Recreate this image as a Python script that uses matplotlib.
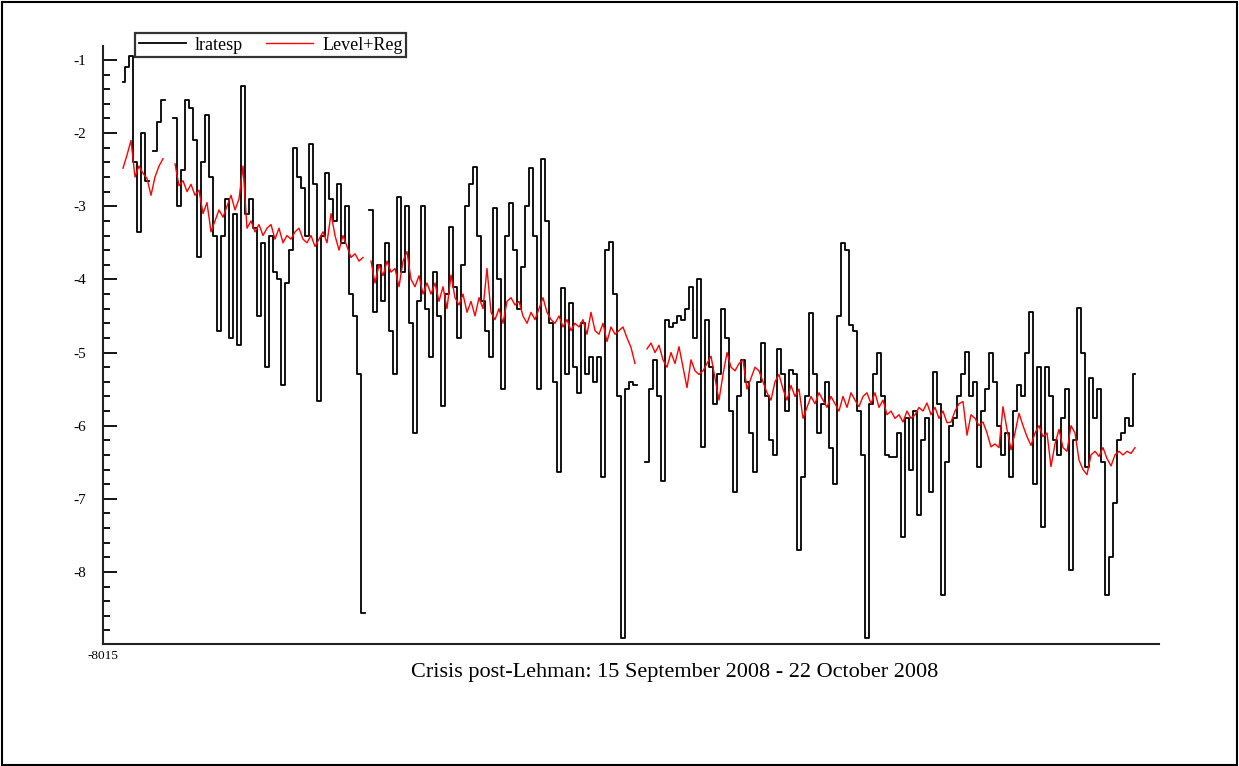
import numpy as np
import matplotlib
matplotlib.use("Agg")
import matplotlib.pyplot as plt
from matplotlib.patches import Rectangle
from matplotlib.ticker import MultipleLocator, FixedLocator

nan = np.nan

# ---- data ----
lratesp = [
    -1.30, -1.10, -0.95, -2.40, -3.35, -2.00, -2.65, nan, -2.25, -1.85,
    -1.55, nan, nan, -1.80, -3.00, -2.50, -1.55, -1.65, -2.10, -3.70,
    -2.40, -1.75, -2.60, -3.40, -4.70, -3.40, -2.90, -4.80, -3.10, -4.90,
    -1.35, -3.10, -2.90, -3.30, -4.50, -3.50, -5.20, -3.40, -3.90, -4.00,
    -5.45, -4.05, -3.60, -2.20, -2.60, -2.75, -3.40, -2.15, -2.70, -5.66,
    -3.40, -2.55, -2.90, -3.20, -2.70, -3.50, -3.00, -4.20, -4.50, -5.30,
    -8.56, nan, -3.05, -4.45, -3.80, -4.30, -3.50, -4.70, -5.30, -2.87,
    -3.90, -3.00, -4.60, -6.10, -4.30, -3.00, -4.40, -5.06, -3.90, -4.50,
    -5.73, -4.20, -3.28, -4.10, -4.80, -3.80, -3.00, -2.70, -2.46, -3.40,
    -4.30, -4.70, -5.06, -3.02, -4.00, -5.50, -3.40, -2.95, -3.60, -4.40,
    -3.83, -3.00, -2.48, -3.40, -5.50, -2.36, -3.20, -4.60, -5.40, -6.63,
    -4.12, -5.30, -4.32, -5.20, -5.55, -4.60, -5.30, -5.06, -5.40, -5.06,
    -6.70, -3.60, -3.49, -4.20, -5.60, -8.90, -5.50, -5.40, -5.45, nan,
    nan, -6.50, -5.50, -5.10, -5.60, -6.75, -4.55, -4.65, -4.60, -4.50,
    -4.55, -4.40, -4.10, -4.80, -4.00, -6.29, -4.55, -5.20, -5.70, -5.30,
    -4.40, -4.80, -5.80, -6.90, -5.60, -5.10, -5.40, -6.10, -6.63, -5.40,
    -4.87, -5.60, -6.20, -6.40, -4.95, -5.30, -5.80, -5.24, -5.30, -7.70,
    -6.70, -5.60, -4.46, -5.30, -6.10, -5.70, -5.40, -6.30, -6.80, -4.50,
    -3.50, -3.60, -4.62, -4.70, -5.80, -6.40, -8.90, -5.70, -5.30, -5.00,
    -5.60, -6.40, -6.43, -6.43, -6.10, -7.52, -5.90, -6.60, -5.80, -7.22,
    -6.20, -5.90, -6.90, -5.27, -5.70, -8.31, -6.50, -6.00, -5.90, -5.60,
    -5.30, -4.99, -5.60, -5.40, -6.56, -5.80, -5.50, -5.00, -5.40, -6.00,
    -6.40, -6.10, -6.70, -5.80, -5.44, -5.60, -5.00, -4.44, -6.80, -5.20,
    -7.38, -5.20, -5.60, -6.20, -6.40, -5.90, -5.50, -7.97, -6.20, -4.39,
    -5.00, -6.56, -5.35, -5.90, -5.50, -6.50, -8.31, -7.80, -7.06, -6.20,
    -6.10, -5.90, -6.00, -5.30,
]

level_reg = [
    -2.48, -2.30, -2.10, -2.60, -2.45, -2.55, -2.62, -2.85, -2.60, -2.45,
    -2.35, nan, nan, -2.42, -2.72, -2.65, -2.80, -2.70, -2.85, -2.78,
    -3.10, -2.95, -3.35, -3.20, -3.05, -3.15, -3.00, -2.85, -3.05, -2.90,
    -2.45, -3.30, -3.20, -3.35, -3.25, -3.40, -3.30, -3.25, -3.45, -3.30,
    -3.50, -3.40, -3.45, -3.35, -3.30, -3.45, -3.50, -3.40, -3.55, -3.45,
    -3.35, -3.50, -3.10, -3.40, -3.60, -3.40, -3.55, -3.70, -3.65, -3.75,
    -3.70, nan, -3.75, -4.05, -3.80, -3.95, -3.75, -3.90, -3.85, -4.10,
    -3.75, -3.62, -4.00, -4.10, -3.95, -4.20, -4.05, -4.20, -4.05, -4.30,
    -4.10, -4.40, -3.94, -4.25, -4.35, -4.20, -4.45, -4.30, -4.50, -4.25,
    -4.40, -3.85, -4.45, -4.55, -4.40, -4.60, -4.30, -4.25, -4.35, -4.30,
    -4.50, -4.60, -4.45, -4.55, -4.40, -4.25, -4.45, -4.55, -4.60, -4.50,
    -4.65, -4.55, -4.70, -4.60, -4.65, -4.55, -4.75, -4.45, -4.70, -4.75,
    -4.60, -4.85, -4.65, -4.75, -4.70, -4.65, -4.80, -4.93, -5.15, nan,
    nan, -4.95, -4.87, -5.00, -4.90, -5.10, -5.20, -5.00, -5.15, -4.92,
    -5.20, -5.48, -5.10, -5.25, -5.30, -5.25, -5.15, -5.05, -5.35, -5.65,
    -5.30, -5.00, -5.20, -5.25, -5.15, -5.10, -5.50, -5.35, -5.20, -5.25,
    -5.40, -5.55, -5.65, -5.40, -5.30, -5.50, -5.65, -5.45, -5.60, -5.50,
    -5.90, -5.75, -5.60, -5.70, -5.55, -5.65, -5.75, -5.60, -5.70, -5.80,
    -5.60, -5.75, -5.55, -5.65, -5.74, -5.60, -5.55, -5.70, -5.55, -5.75,
    -5.65, -5.85, -5.80, -5.90, -5.85, -5.95, -5.80, -5.90, -5.85, -5.75,
    -5.80, -5.69, -5.85, -5.75, -5.90, -5.80, -5.96, -5.95, -5.80, -5.70,
    -5.67, -6.13, -5.85, -5.90, -6.00, -5.95, -6.10, -6.29, -6.25, -6.30,
    -5.74, -6.05, -6.33, -6.10, -5.83, -6.00, -6.15, -6.27, -6.10, -6.00,
    -6.15, -6.10, -6.56, -6.25, -6.05, -6.30, -6.35, -6.00, -6.10, -6.47,
    -6.60, -6.67, -6.40, -6.35, -6.42, -6.30, -6.45, -6.55, -6.40, -6.35,
    -6.40, -6.35, -6.38, -6.30,
]

series_names = ["lratesp", "Level+Reg"]
x_tick_label = "-8015"
x_title = "Crisis post-Lehman: 15 September 2008 - 22 October 2008"
y_major = [-8, -7, -6, -5, -4, -3, -2, -1]

obs = np.arange(len(lratesp))

# ---- figure ----
W, H = 1239, 766
fig = plt.figure(figsize=(W / 100, H / 100), dpi=100)
plt.rcParams['font.family'] = ['Liberation Serif', 'DejaVu Serif']

# outer frame
fig.patches.append(Rectangle((1.5 / W, 1.5 / H), (W - 3.5) / W, (H - 3.5) / H,
                             transform=fig.transFigure, fill=False,
                             edgecolor='black', linewidth=1.5))

ax_left, ax_right, ax_top, ax_bot = 103, 1159, 46, 644
ax = fig.add_axes([ax_left / W, 1 - ax_bot / H, (ax_right - ax_left) / W, (ax_bot - ax_top) / H])

ax.plot(obs, lratesp, color='black', lw=1.3, drawstyle='steps-mid', label=series_names[0])
ax.plot(obs, level_reg, color='red', lw=1.0, label=series_names[1])

px_per_obs = 4.0
ax.set_xlim((ax_left - 123) / px_per_obs, (ax_right - 123) / px_per_obs)
ax.set_ylim(-8.985, -0.809)

for s in ['top', 'right']:
    ax.spines[s].set_visible(False)
for s in ['left', 'bottom']:
    ax.spines[s].set_linewidth(1.5)
    ax.spines[s].set_color('#222222')

ax.yaxis.set_major_locator(FixedLocator(y_major))
ax.yaxis.set_minor_locator(MultipleLocator(0.2))
ax.tick_params(axis='y', which='major', direction='in', length=10, width=1.3,
               pad=12, labelsize=11)
ax.tick_params(axis='y', which='minor', direction='in', length=5, width=1.3)
ax.set_yticklabels([f"{v}" for v in y_major])

ax.set_xticks([(ax_left - 123) / px_per_obs])
ax.set_xticklabels([x_tick_label])
ax.tick_params(axis='x', length=0, pad=4, labelsize=9.5)

ax.set_xlabel(x_title, fontsize=16)
ax.xaxis.label.set_verticalalignment('top')
ax.xaxis.set_label_coords((675 - ax_left) / (ax_right - ax_left), -0.031)

leg = fig.legend(loc='upper left', bbox_to_anchor=(135 / W, 1 - 33 / H),
                 ncol=2, fontsize=13, frameon=True, fancybox=False,
                 borderaxespad=0, handlelength=2.6, handletextpad=0.5,
                 columnspacing=1.3, borderpad=0.2)
leg.get_frame().set_edgecolor('black')
leg.get_frame().set_linewidth(1.6)

fig.savefig("out.png", dpi=100)
